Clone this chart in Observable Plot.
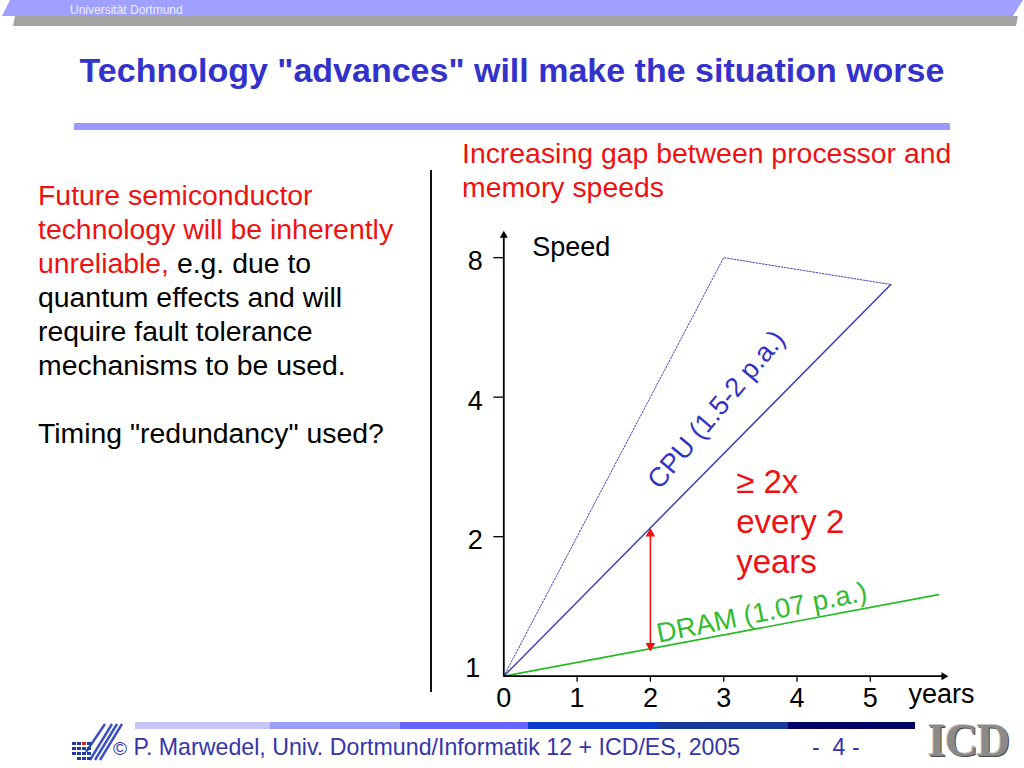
<!DOCTYPE html>
<html><head><meta charset="utf-8">
<script src="https://cdn.jsdelivr.net/npm/d3@7"></script>
<script src="https://cdn.jsdelivr.net/npm/@observablehq/plot@0.6"></script>
<style>
body{margin:0;background:#fff;}
#slide{position:relative;width:1024px;height:768px;overflow:hidden;background:#fff;font-family:"Liberation Sans",Arial,Helvetica,sans-serif;}
.abs{position:absolute;white-space:nowrap;}
</style></head><body><div id="slide">
  <!-- top bar -->
  <div class="abs" style="left:0;top:16px;width:1024px;height:10px;background:#a4a4a4;clip-path:polygon(15px 0,1018px 0,1016px 10px,13px 10px);"></div>
  <div class="abs" style="left:0;top:0;width:1024px;height:16px;background:#9fa0ff;clip-path:polygon(10px 0,1023px 0,1013px 16px,2px 16px);"></div>
  <div class="abs" style="left:70px;top:3px;font-size:12px;line-height:14px;color:#eeeeff;">Universität Dortmund</div>
  <!-- title -->
  <div class="abs" style="left:0;width:1024px;text-align:center;top:53px;font-size:34px;line-height:34px;font-weight:bold;color:#3333cc;">Technology "advances" will make the situation worse</div>
  <div class="abs" style="left:74px;top:123px;width:876px;height:7px;background:#9999ff;"></div>
  <!-- left text -->
  <div class="abs" style="left:38px;top:178px;font-size:28.4px;line-height:34px;color:#000;">
    <span style="color:#ee1111">Future semiconductor<br>technology will be inherently<br>unreliable,</span> e.g. due to<br>quantum effects and will<br>require fault tolerance<br>mechanisms to be used.<br><br>Timing "redundancy" used?
  </div>
  <div class="abs" style="left:430px;top:170px;width:2px;height:522px;background:#111;"></div>
  <!-- chart heading -->
  <div class="abs" style="left:462px;top:136px;font-size:28.4px;line-height:34px;color:#ee1111;">Increasing gap between processor and<br>memory speeds</div>
  <div id="chart" class="abs" style="left:430px;top:215px;"></div>
  <!-- footer -->
  <div class="abs" style="left:135px;top:722px;width:780px;height:7px;background:linear-gradient(to right,#c6c6f6 0,#c6c6f6 17.3%,#9c9cfb 17.3%,#9c9cfb 34%,#6666ff 34%,#6666ff 50.4%,#0a3acc 50.4%,#0a3acc 66.9%,#173a9a 66.9%,#173a9a 83.7%,#000066 83.7%,#000066 100%);"></div>
  <svg class="abs" style="left:72px;top:722px;" width="52" height="40" viewBox="0 0 52 40">
    <g stroke="#3b4fc0" stroke-width="2.4" fill="none">
      <line x1="18" y1="38" x2="40" y2="2"/>
      <line x1="23" y1="38" x2="45" y2="2"/>
      <line x1="28" y1="38" x2="50" y2="2"/>
      <line x1="14" y1="30" x2="33" y2="2"/>
    </g>
    <g fill="#1f3c9c">
      <rect x="0" y="20" width="4" height="3"/><rect x="5" y="20" width="4" height="3"/><rect x="15" y="20" width="4" height="3"/>
      <rect x="0" y="25" width="4" height="3"/><rect x="5" y="25" width="4" height="3"/><rect x="10" y="25" width="4" height="3"/><rect x="15" y="25" width="4" height="3"/>
      <rect x="0" y="30" width="4" height="3"/><rect x="5" y="30" width="4" height="3"/><rect x="10" y="30" width="4" height="3"/><rect x="15" y="30" width="4" height="3"/>
      <rect x="5" y="35" width="4" height="3"/><rect x="10" y="35" width="4" height="3"/><rect x="15" y="35" width="4" height="3"/>
    </g>
    <rect x="10" y="20" width="4" height="3" fill="#dd2222"/>
  </svg>
  <div class="abs" style="left:113px;top:736px;font-size:23.2px;line-height:23px;color:#3535a8;"><span style="font-size:19px">©</span> P. Marwedel, Univ. Dortmund/Informatik 12 + ICD/ES, 2005</div>
  <div class="abs" style="left:812px;top:736px;font-size:23.2px;line-height:23px;color:#3535a8;white-space:pre;">-  4 -</div>
  <div class="abs" style="left:928px;top:718px;font-size:46px;line-height:46px;letter-spacing:-1px;font-family:'Liberation Serif','Times New Roman',serif;font-weight:bold;color:#8a8a8a;text-shadow:-1px -1px 0 #c4c4c4,1px 1px 0 #4a4a4a;">ICD</div>
</div>
<script>
// ---- data ----
const yearTicks = [0, 1, 2, 3, 4, 5];
const yearTickMarks = [1, 2, 3, 4, 5];
const speedTicks = [2, 4, 8];
const speedOriginLabel = [1];
const cpuYears = [0, 5.28];
const cpuSpeed = [1, 7.0];
const cpuBoundYears = [0, 3.0, 5.28];
const cpuBoundSpeed = [1, 8, 7.0];
const dramYears = [0, 5.93];
const dramSpeed = [1, 1.5];
const gapYear = 2;
const gapSpeed = [1.14, 2.07];
const xMax = 6.03, yMax = 9.02;
const labels = [
  {x: 0.387, y: 8.40, text: "Speed"},
  {x: 5.52, y: 0.916, text: "years"}
];
const cpuLabel = [{x: 2.9, y: 3.76, text: "CPU (1.5-2 p.a.)"}];
const dramLabel = [{x: 3.52, y: 1.37, text: "DRAM (1.07 p.a.)"}];
const gapNote = [{x: 3.17, y: 2.87, text: "≥ 2x\nevery 2\nyears"}];

const toRows = (xs, ys) => xs.map((x, i) => ({x, y: ys[i]}));
const cpu = toRows(cpuYears, cpuSpeed);
const bound = toRows(cpuBoundYears, cpuBoundSpeed);
const dram = toRows(dramYears, dramSpeed);
const gap = [{x1: gapYear, y1: gapSpeed[0], x2: gapYear, y2: gapSpeed[1]}];
const font = "'Liberation Sans',Arial,Helvetica,sans-serif";
const blank = () => "";

const chart = Plot.plot({
  width: 580, height: 500,
  marginLeft: 73.3, marginRight: 64.7, marginTop: 18, marginBottom: 39.3,
  x: {domain: [0, xMax]},
  y: {type: "log", base: 2, domain: [1, yMax]},
  style: {fontFamily: font, fontSize: "27px", color: "black", background: "transparent", overflow: "visible"},
  marks: [
    Plot.line(bound, {x: "x", y: "y", stroke: "#4040b8", strokeWidth: 1, strokeDasharray: "1.6,1.6"}),
    Plot.line(cpu, {x: "x", y: "y", stroke: "#4040b8", strokeWidth: 1.5}),
    Plot.line(dram, {x: "x", y: "y", stroke: "#22bb22", strokeWidth: 1.6}),
    Plot.link(gap, {x1: "x1", y1: "y1", x2: "x2", y2: "y2", stroke: "#ee1111", strokeWidth: 1.6}),
    Plot.dot([gap[0]], {x: "x2", y: "y2", symbol: "triangle", r: 3.6, fill: "#ee1111", stroke: "none", dy: 4}),
    Plot.dot([gap[0]], {x: "x1", y: "y1", symbol: "triangle", r: 3.6, fill: "#ee1111", stroke: "none", rotate: 180, dy: -4}),
    Plot.ruleY([1], {stroke: "black", strokeWidth: 1.8}),
    Plot.ruleX([0], {stroke: "black", strokeWidth: 1.8}),
    Plot.dot([{x: xMax, y: 1}], {x: "x", y: "y", symbol: "triangle", r: 3, fill: "black", stroke: "none", rotate: 90, dx: -2}),
    Plot.dot([{x: 0, y: yMax}], {x: "x", y: "y", symbol: "triangle", r: 3, fill: "black", stroke: "none", dy: 2}),
    Plot.axisY({ticks: speedTicks, tickSize: 10, tickFormat: blank, strokeWidth: 1.3, label: null}),
    Plot.axisY({ticks: speedTicks, tickSize: 0, tickPadding: 21, dy: 4, fontSize: 27, tickFormat: d => String(d), label: null}),
    Plot.text(speedOriginLabel, {x: () => 0, y: d => d, text: d => String(d), dx: -31, dy: -8, fontSize: 27, fill: "black"}),
    Plot.axisX({ticks: yearTickMarks, tickSize: 6, tickFormat: blank, strokeWidth: 1.3, label: null}),
    Plot.axisX({ticks: yearTicks, tickSize: 0, tickPadding: 12, fontSize: 27, tickFormat: d => String(d), label: null}),
    Plot.text(labels, {x: "x", y: "y", text: "text", textAnchor: "start", fontSize: 27, fill: "black"}),
    Plot.text(cpuLabel, {x: "x", y: "y", text: "text", rotate: -50, fontSize: 27, fill: "#3333c0"}),
    Plot.text(dramLabel, {x: "x", y: "y", text: "text", rotate: -11.5, fontSize: 27.5, fill: "#33bb33"}),
    Plot.text(gapNote, {x: "x", y: "y", text: "text", textAnchor: "start", lineAnchor: "top", lineHeight: 1.22, fontSize: 33, fill: "#ee1111"})
  ]
});
document.getElementById("chart").appendChild(chart);
</script>
</body></html>
